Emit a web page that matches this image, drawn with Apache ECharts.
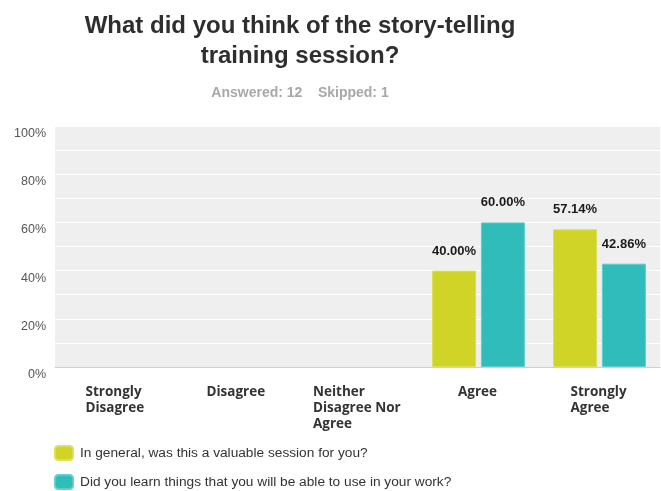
<!DOCTYPE html>
<html>
<head>
<meta charset="utf-8">
<script src="https://cdn.jsdelivr.net/npm/echarts@6/dist/echarts.min.js"></script>
<style>
  html, body { margin: 0; padding: 0; background: #ffffff; }
  #chart { width: 661px; height: 491px; }
</style>
</head>
<body>
<div id="chart"></div>
<script>
// Survey answers per option
const categories = ['Strongly\nDisagree', 'Disagree', 'Neither\nDisagree Nor\nAgree', 'Agree', 'Strongly\nAgree'];
const seriesNames = [
  'In general, was this a valuable session for you?',
  'Did you learn things that you will be able to use in your work?'
];
const valuableSession = [0, 0, 0, 40.00, 57.14];
const usefulForWork = [0, 0, 0, 60.00, 42.86];
const yTicks = [0, 20, 40, 60, 80, 100];

const catFont = 'bold 13.5px "Open Sans", sans-serif';

// Width of the widest line of each category label, so lines can be
// left-aligned inside a block that is centred under the bars.
const measureCtx = document.createElement('canvas').getContext('2d');
measureCtx.font = catFont;
const catRich = {};
categories.forEach(function (c, i) {
  const w = Math.max.apply(null, c.split('\n').map(function (s) {
    return Math.ceil(measureCtx.measureText(s).width);
  }));
  catRich['c' + i] = {
    width: w + 1,
    align: 'left',
    fontFamily: '"Open Sans", sans-serif',
    fontWeight: 'bold',
    fontSize: 13.5,
    lineHeight: 16,
    color: '#333333'
  };
});

const chart = echarts.init(document.getElementById('chart'), null, { renderer: 'canvas' });

function valueLabel(p) {
  return p.value > 0 ? p.value.toFixed(2) + '%' : '';
}

function barData(arr) {
  return arr.map(function (v) { return v > 0 ? v : '-'; });
}

const barLabel = {
  show: true,
  position: 'top',
  distance: 13,
  formatter: valueLabel,
  fontFamily: 'Liberation Sans, Arial, sans-serif',
  fontWeight: 'bold',
  fontSize: 13,
  color: '#1a1a1a'
};

function legendRow(name, top) {
  return {
    orient: 'vertical',
    left: 54,
    top: top,
    padding: 0,
    itemWidth: 18,
    itemHeight: 14,
    icon: 'roundRect',
    textStyle: {
      fontFamily: 'Liberation Sans, Arial, sans-serif',
      fontSize: 13.7,
      color: '#333333',
      padding: [0, 0, 0, 2]
    },
    data: [name]
  };
}

chart.setOption({
  animation: false,
  title: [
    {
      text: 'What did you think of the story-telling\ntraining session?',
      left: 295,
      textAlign: 'center',
      top: 6,
      textStyle: {
        fontFamily: 'Liberation Sans, Arial, sans-serif',
        fontWeight: 'bold',
        fontSize: 24,
        lineHeight: 30,
        color: '#2e2e2e'
      }
    },
    {
      text: 'Answered: 12    Skipped: 1',
      left: 295,
      textAlign: 'center',
      top: 81,
      textStyle: {
        fontFamily: 'Liberation Sans, Arial, sans-serif',
        fontWeight: 'bold',
        fontSize: 14,
        color: '#a8a8a8'
      }
    }
  ],
  legend: [
    legendRow(seriesNames[0], 445),
    legendRow(seriesNames[1], 474)
  ],
  grid: {
    left: 55,
    top: 126,
    right: 1,
    bottom: 124,
    show: true,
    backgroundColor: '#efefef',
    borderWidth: 0
  },
  xAxis: {
    type: 'category',
    data: categories,
    axisLine: { show: true, lineStyle: { color: '#d0d0d0', width: 1 } },
    axisTick: { show: false },
    axisLabel: {
      interval: 0,
      margin: 17,
      fontFamily: '"Open Sans", sans-serif',
      fontWeight: 'bold',
      fontSize: 13.5,
      lineHeight: 16,
      color: '#333333',
      formatter: function (v, i) {
        return v.split('\n').map(function (s) {
          return '{c' + i + '|' + s + '}';
        }).join('\n');
      },
      rich: catRich
    }
  },
  yAxis: {
    type: 'value',
    min: 0,
    max: 100,
    interval: 10,
    axisLine: { show: false },
    axisTick: { show: false },
    splitLine: { show: true, lineStyle: { color: '#ffffff', width: 1 } },
    axisLabel: {
      margin: 9,
      verticalAlign: 'top',
      padding: [1, 0, 0, 0],
      fontFamily: 'Liberation Sans, Arial, sans-serif',
      fontSize: 12.5,
      color: '#555555',
      formatter: function (v) {
        return yTicks.indexOf(v) >= 0 ? v + '%' : '';
      }
    }
  },
  series: [
    {
      name: seriesNames[0],
      type: 'bar',
      data: barData(valuableSession),
      barWidth: 44,
      barGap: '11%',
      itemStyle: { color: '#cfd426', borderColor: '#dbe05a', borderWidth: 1 },
      label: barLabel
    },
    {
      name: seriesNames[1],
      type: 'bar',
      data: barData(usefulForWork),
      barWidth: 44,
      itemStyle: { color: '#31bcbc', borderColor: '#62cccc', borderWidth: 1 },
      label: barLabel
    }
  ]
});
</script>
</body>
</html>
